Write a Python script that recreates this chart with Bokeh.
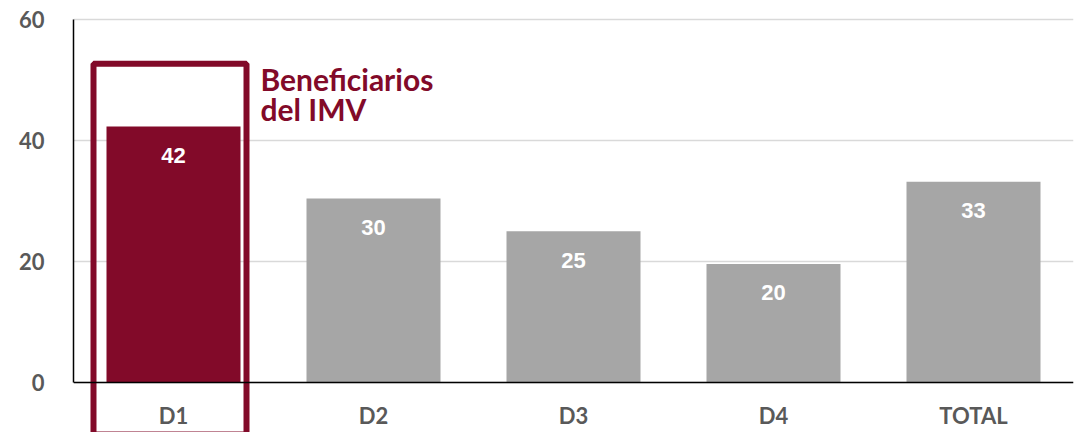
from bokeh.plotting import figure
from bokeh.models import Range1d, FactorRange, CategoricalAxis, FixedTicker, ColumnDataSource
from bokeh.core.properties import value
from bokeh.embed import file_html
from bokeh.resources import INLINE

categories = ["D1", "D2", "D3", "D4", "TOTAL"]
values = [42.3, 30.4, 25.0, 19.6, 33.2]
labels = [str(int(round(v))) for v in values]
colors = ["#820A29", "#A6A6A6", "#A6A6A6", "#A6A6A6", "#A6A6A6"]
y_ticks = [0, 20, 40, 60]
highlight_category = "D1"
highlight_top = 52.7
highlight_bottom = -8.6
highlight_text = ["Beneficiarios", "del IMV"]

DARK = "#820A29"
GREY_TXT = "#595959"

src = ColumnDataSource(dict(cat=categories, val=values, lab=labels, col=colors))

p = figure(
    width=1075, height=432,
    x_range=FactorRange(*categories, range_padding=0),
    y_range=Range1d(-8.26, 60.5),
    output_backend="svg", toolbar_location=None,
    x_axis_location=None,
    min_border_left=73, min_border_right=2, min_border_top=16, min_border_bottom=0,
)
p.outline_line_color = None
p.xgrid.grid_line_color = None
p.ygrid.grid_line_color = "#D9D9D9"
p.ygrid.grid_line_width = 1.5
p.ygrid.ticker = FixedTicker(ticks=y_ticks)

ya = p.yaxis[0]
ya.ticker = FixedTicker(ticks=y_ticks)
ya.bounds = (0, 60)
ya.axis_line_color = "black"
ya.axis_line_width = 1.5
ya.major_tick_line_color = None
ya.minor_tick_line_color = None
ya.major_label_standoff = 23
ya.major_label_text_font = "Lato"
ya.major_label_text_font_style = "bold"
ya.major_label_text_font_size = "22px"
ya.major_label_text_color = GREY_TXT

xa = CategoricalAxis(fixed_location=0)
xa.axis_line_color = "black"
xa.axis_line_width = 1.5
xa.major_tick_line_color = None
xa.minor_tick_line_color = None
xa.major_label_standoff = 13
xa.major_label_text_font = "Lato"
xa.major_label_text_font_style = "bold"
xa.major_label_text_font_size = "22px"
xa.major_label_text_color = GREY_TXT
p.add_layout(xa, "below")

p.vbar(x="cat", top="val", bottom=0, width=0.67, fill_color="col", line_color=None, source=src)

p.text(x="cat", y="val", text="lab", source=src, text_color="white",
       text_font=value("Liberation Sans"), text_font_style="bold", text_font_size="22px",
       text_align="center", text_baseline="middle", y_offset=29)

p.quad(left=[(highlight_category, -0.4)], right=[(highlight_category, 0.365)],
       top=[highlight_top], bottom=[highlight_bottom],
       fill_color=None, line_color=DARK, line_width=6)

p.text(x=[highlight_category, highlight_category], y=[highlight_top, highlight_top],
       text=highlight_text, text_color=DARK,
       text_font=value("Lato"), text_font_style="bold", text_font_size="30px",
       text_align="left", text_baseline="alphabetic", x_offset=87, y_offset=[15, 45])

open("out.html", "w").write(file_html(p, INLINE))
